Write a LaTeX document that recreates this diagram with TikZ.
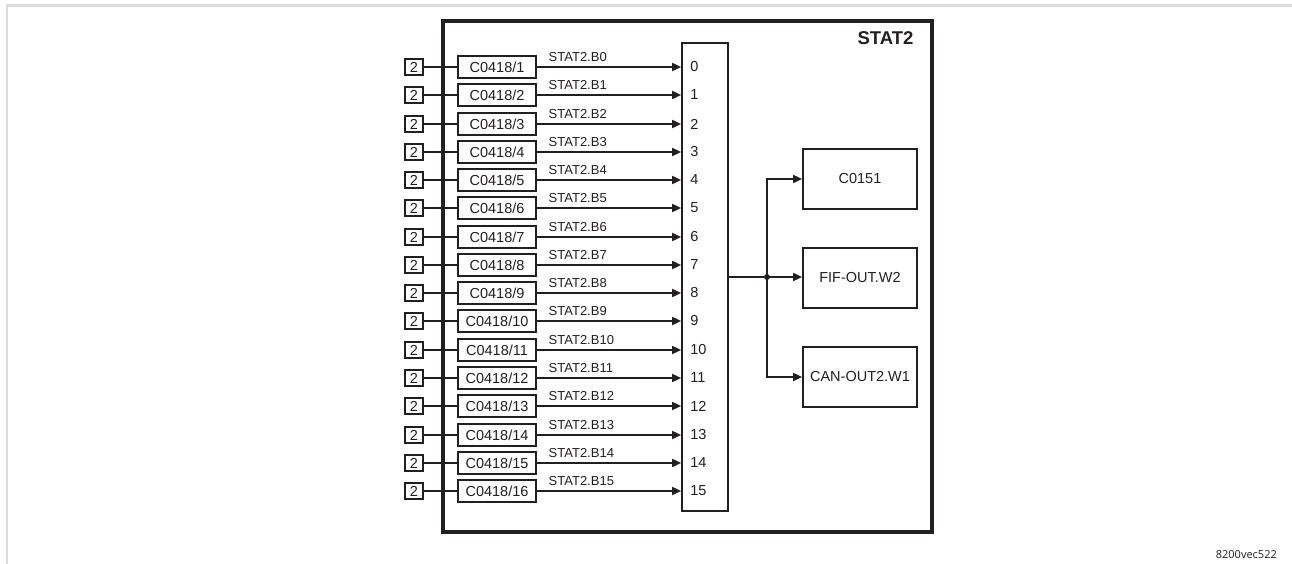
\documentclass[tikz,border=0pt]{standalone}
\usepackage{fontspec}
\setmainfont{Liberation Sans}
\newfontfamily\tagfont{Open Sans}
\usepackage{xcolor}
\usetikzlibrary{arrows.meta,positioning}
\definecolor{ink}{HTML}{231F20}
\definecolor{rim}{HTML}{DCDCDC}

\begin{document}
\begin{tikzpicture}[
 x=1pt,y=-1pt,
 font=\fontsize{14.5}{17}\selectfont,
 every node/.style={text=ink},
 line/.style={draw=ink,line width=1.7pt},
 twobox/.style={line,minimum width=18pt,minimum height=16pt,inner sep=0pt},
 parbox/.style={line,minimum width=78pt,minimum height=22pt,inner sep=0pt},
 outbox/.style={line,minimum width=114pt,minimum height=60pt,inner sep=0pt},
 sig/.style={anchor=base west,inner sep=0pt,font=\fontsize{13}{15}\selectfont},
 arr/.style={line,-{Triangle[length=9pt,width=8pt]}}]
\useasboundingbox (0,0) rectangle (1292,564);
% page rim
\draw[rim,line width=2.5pt] (7,564) -- (7,5.5) -- (1292,5.5);
% function block frame
\draw[ink,line width=3.5pt] (443,21) rectangle (932,532);
\node[anchor=base east,font=\bfseries\fontsize{18.5}{20}\selectfont] (title) at (917,45) {STAT2};
% bit selector
\node[line,minimum width=46pt,minimum height=468pt,inner sep=0pt] (mux) at (705,277) {};
\foreach \i [evaluate=\i as \yy using round(67+28.27*\i),
 evaluate=\i as \n using int(\i+1)] in {0,...,15} {
 \node[twobox] (two\i) at (414,\yy) {2};
 \node[parbox] (par\i) at (497,\yy) {C0418/\n};
 \draw[line] (two\i) -- (par\i);
 \draw[arr] (par\i) -- (mux.west |- par\i)
 node[pos=0,sig,xshift=11pt,yshift=5.5pt] {STAT2.B\i};
 \node[anchor=west,inner sep=0pt] (bit\i) at ([xshift=9pt]mux.west |- par\i) {\i};
}
% outputs
\node[outbox] (c0151) at (860,179) {C0151};
\node[outbox] (fif) at (860,278) {FIF-OUT.W2};
\node[outbox] (can) at (860,377) {CAN-OUT2.W1};
\coordinate (junc) at (767,277);
\draw[line] (mux.east |- junc) -- (junc);
\fill[ink] (junc) circle (3pt);
\draw[arr] (junc) |- (c0151.west);
\draw[arr] (junc) -- (fif.west |- junc);
\draw[arr] (junc) |- (can.west);
\node[anchor=base east,inner sep=0pt,font=\tagfont\fontsize{11}{12}\selectfont] (tag) at (1277,558) {8200vec522};
\end{tikzpicture}
\end{document}
